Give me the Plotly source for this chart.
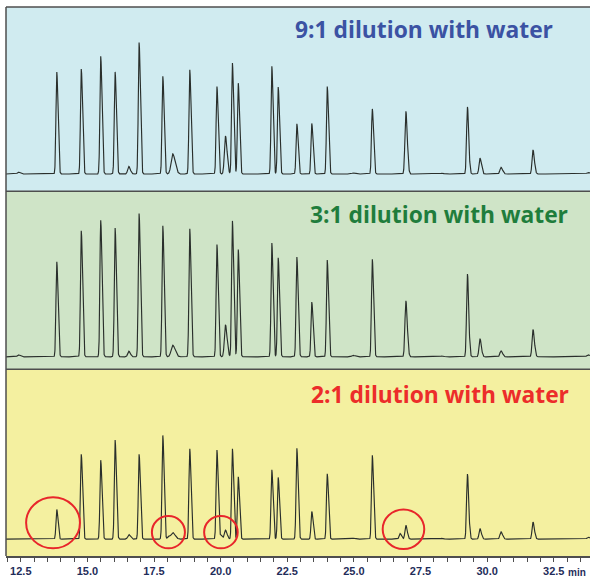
import numpy as np
import plotly.graph_objects as go
from plotly.subplots import make_subplots

# Retention times (min) of the peaks in the chromatogram
retention_min = [12.41, 13.85, 14.77, 15.50, 16.04, 16.55, 16.94, 17.83, 18.04, 18.20,
                 18.84, 19.86, 20.01, 20.18, 20.44, 20.66, 21.92, 22.16, 22.86, 23.42,
                 24.00, 24.97, 25.69, 26.73, 26.95, 28.30, 29.26, 29.73, 30.52, 31.72, 33.79]

# Peak widths (sigma, min) - a few late/minor peaks are broader
peak_sigma = [0.040, 0.030, 0.030, 0.030, 0.030, 0.040, 0.030, 0.030, 0.035, 0.060,
              0.030, 0.030, 0.035, 0.040, 0.030, 0.030, 0.030, 0.030, 0.030, 0.030,
              0.030, 0.050, 0.030, 0.035, 0.035, 0.050, 0.032, 0.035, 0.040, 0.035, 0.050]

# Peak heights (relative response) for each dilution
height_9to1 = [2.0, 103.0, 106.0, 118.7, 103.0, 7.7, 132.7, 98.7, 0.0, 20.3,
               105.3, 88.3, 0.0, 38.3, 112.0, 91.7, 108.7, 87.7, 50.7, 51.0,
               88.3, 1.0, 65.7, 0.0, 63.3, 0.8, 67.7, 16.0, 6.7, 24.3, 1.5]
height_3to1 = [2.0, 96.0, 127.3, 137.7, 130.0, 5.7, 144.7, 132.3, 0.0, 11.7,
               129.3, 113.3, 0.0, 32.3, 137.3, 108.3, 115.0, 100.0, 100.7, 55.3,
               97.6, 1.5, 98.6, 0.0, 56.6, 0.8, 83.6, 18.3, 6.0, 27.6, 2.0]
height_2to1 = [0.0, 30.0, 85.7, 79.7, 100.0, 4.7, 85.7, 104.7, 3.0, 6.7,
               91.3, 90.0, 4.0, 9.0, 91.3, 63.0, 70.0, 62.3, 91.7, 28.0,
               66.0, 1.0, 84.7, 5.7, 14.0, 0.8, 65.7, 10.7, 7.3, 17.3, 2.0]

panel_titles = ["9:1 dilution with water", "3:1 dilution with water", "2:1 dilution with water"]
tick_values = [12.5, 15.0, 17.5, 20.0, 22.5, 25.0, 27.5, 30.0, 32.5]

# Highlighted regions in the 2:1 trace: (centre time, centre response, radius min, radius response)
highlight_regions = [(13.71, 16.5, 1.01, 25.8),
                     (18.04, 7.0, 0.62, 16.3),
                     (20.01, 7.0, 0.63, 16.3),
                     (26.86, 10.0, 0.78, 20.0)]

X_RANGE = [11.945, 33.86]


def trace_signal(t, heights):
    """Sum of slightly tailing Gaussian peaks."""
    y = np.zeros_like(t)
    for rt, s, h in zip(retention_min, peak_sigma, heights):
        if h <= 0:
            continue
        d = t - rt
        sig = np.where(d < 0, s, s * 1.5)
        y += h * np.exp(-0.5 * (d / sig) ** 2)
    return y


t = np.linspace(X_RANGE[0], X_RANGE[1], 6000)

fig = make_subplots(rows=3, cols=1, shared_xaxes=True, vertical_spacing=0,
                    row_heights=[186, 179.5, 188.5])

panel_bg = ["#d0ebf0", "#cfe4c7", "#f4f0a0"]
title_colors = ["#3b52a3", "#1f7d3c", "#ec2d2a"]
y_ranges = [[-17.5, 168.5], [-12.5, 167.0], [-17.0, 171.5]]
title_pos = [(0.7158, 0.9585), (0.7406, 0.6218), (0.7423, 0.2933)]

for i, heights in enumerate([height_9to1, height_3to1, height_2to1]):
    row = i + 1
    fig.add_trace(go.Scatter(x=t, y=trace_signal(t, heights), mode="lines",
                             line=dict(color="#2a2f2c", width=1.15),
                             showlegend=False, hoverinfo="skip"), row=row, col=1)
    yref = "y" if row == 1 else f"y{row}"
    fig.add_shape(type="rect", xref="paper", x0=0, x1=1, yref=f"{yref} domain", y0=0, y1=1,
                  fillcolor=panel_bg[i], line_width=0, layer="below")
    fig.add_shape(type="line", xref="paper", x0=0, x1=1, yref=f"{yref} domain", y0=1, y1=1,
                  line=dict(color="#4e4e4e", width=1.5))
    fig.update_yaxes(range=y_ranges[i], visible=False, fixedrange=True, row=row, col=1)
    fig.add_annotation(text=panel_titles[i], xref="paper", yref="paper",
                       x=title_pos[i][0], y=title_pos[i][1], xanchor="center", yanchor="middle",
                       showarrow=False,
                       font=dict(family="Open Sans", size=22.8, color=title_colors[i], weight="bold"))

# Left border
fig.add_shape(type="line", xref="paper", x0=0, x1=0, yref="paper", y0=0, y1=1,
              line=dict(color="#4e4e4e", width=1.5))

for cx, cy, rx, ry in highlight_regions:
    fig.add_shape(type="circle", xref="x3", yref="y3",
                  x0=cx - rx, x1=cx + rx, y0=cy - ry, y1=cy + ry,
                  line=dict(color="#e8262b", width=2))

for row in (1, 2):
    fig.update_xaxes(range=X_RANGE, showticklabels=False, ticks="", showgrid=False,
                     zeroline=False, row=row, col=1)

fig.update_xaxes(range=X_RANGE, tickmode="array", tickvals=tick_values,
                 ticktext=[f"{v:.1f}" for v in tick_values],
                 ticks="outside", ticklen=4, tickwidth=1, tickcolor="#4e4e4e",
                 minor=dict(dtick=0.5, tick0=12.5, ticks="outside", ticklen=4,
                            tickcolor="#4e4e4e", showgrid=False),
                 showline=True, linecolor="#4e4e4e", linewidth=1.5,
                 showgrid=False, zeroline=False,
                 tickfont=dict(family="Liberation Sans", size=11, color="#1f2d5a", weight="bold"),
                 row=3, col=1)

# Axis unit label at the right end of the time axis
fig.add_annotation(text="min", xref="paper", yref="paper", x=0.997, y=-0.0305,
                   xanchor="right", yanchor="middle", showarrow=False,
                   font=dict(family="Liberation Sans", size=10, color="#1f2d5a", weight="bold"))

fig.update_layout(width=590, height=577, margin=dict(l=6, r=0, t=7, b=16),
                  paper_bgcolor="white", plot_bgcolor="white", showlegend=False)

fig.write_html("out.html")
